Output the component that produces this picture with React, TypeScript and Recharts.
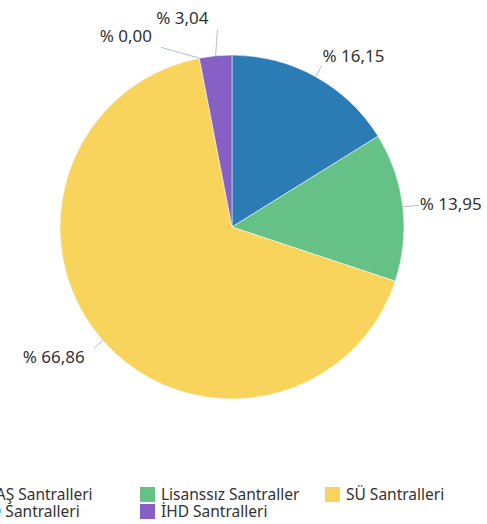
import { Legend, Pie, PieChart, Cell } from "recharts";

const categories = ["EÜAŞ Santralleri", "Lisanssız Santraller", "SÜ Santralleri", "YİD Santralleri", "İHD Santralleri"];
const shares = [16.15, 13.95, 66.86, 0.0, 3.04];
const colors = ["#2b7bb4", "#66c187", "#f9d45c", "#e8604c", "#8660c5"];

// small nudges for the crowded / stretched labels
const labelNudge: [number, number][] = [[0, 0], [4, 0], [0, 0], [-36, 1], [3, -14]];

const RAD = Math.PI / 180;
const chartData = categories.map((name, i) => ({ name, value: shares[i] }));

const fmt = (v: number) => "% " + v.toFixed(2).replace(".", ",");

function renderLabel(props: any) {
  const { cx, cy, midAngle, outerRadius, index } = props;
  const dx = Math.cos(-midAngle * RAD);
  const dy = Math.sin(-midAngle * RAD);
  const sx = cx + outerRadius * dx;
  const sy = cy + outerRadius * dy;
  const [nx, ny] = labelNudge[index];
  const ex = cx + (outerRadius + 12) * dx + nx;
  const ey = cy + (outerRadius + 12) * dy + ny;
  const side = ex >= cx ? 1 : -1;
  return (
    <g>
      <polyline points={`${sx},${sy} ${ex},${ey}`} stroke="#b4bdd0" fill="none" strokeWidth={1} />
      <text
        x={ex + (side > 0 ? 1 : -9)}
        y={ey + dy * 12}
        textAnchor={side > 0 ? "start" : "end"}
        dominantBaseline="central"
        fill="#333"
        fontSize={17}
      >
        {fmt(shares[index])}
      </text>
    </g>
  );
}

function LegendBox() {
  return (
    <div style={{ display: "grid", gridTemplateColumns: "185px 185px 185px", rowGap: 2, fontSize: 15.5, lineHeight: "15px", color: "#333" }}>
      {categories.map((c, i) => (
        <div key={c} style={{ display: "flex", alignItems: "center", height: 15 }}>
          <span style={{ width: 15, height: 15, background: colors[i], marginRight: 6, flex: "none" }} />
          <span style={{ whiteSpace: "nowrap" }}>{c}</span>
        </div>
      ))}
    </div>
  );
}

export default function App() {
  return (
    <div style={{ position: "absolute", left: 0, top: 0, width: 487, height: 524, overflow: "hidden", background: "#fff", fontFamily: "'Noto Sans', sans-serif" }}>
      <PieChart width={487} height={524} margin={{ top: 0, right: 0, bottom: 0, left: 0 }}>
        <Pie
          data={chartData}
          dataKey="value"
          nameKey="name"
          cx={232}
          cy={227}
          outerRadius={172}
          startAngle={90}
          endAngle={-270}
          stroke="#ffffff"
          strokeWidth={0.5}
          label={renderLabel}
          labelLine={false}
          isAnimationActive={false}
        >
          {chartData.map((d, i) => (
            <Cell key={d.name} fill={colors[i]} />
          ))}
        </Pie>
        <Legend
          content={() => <LegendBox />}
          wrapperStyle={{ position: "absolute", left: -45, top: 487, width: 600, bottom: "auto" }}
        />
      </PieChart>
    </div>
  );
}
